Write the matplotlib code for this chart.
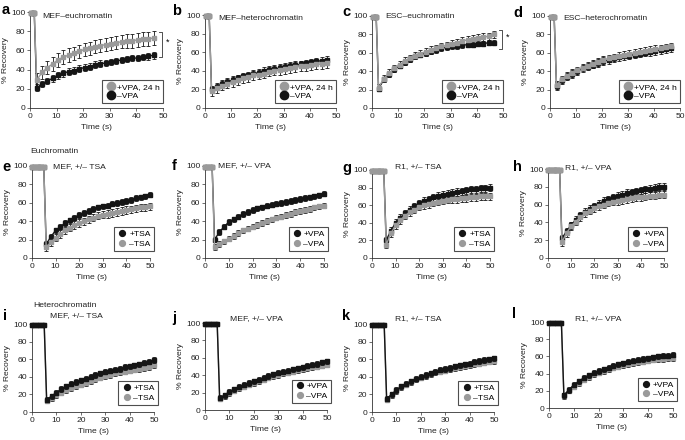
import numpy as np
import matplotlib.pyplot as plt
from matplotlib.lines import Line2D

plt.rcParams['font.family'] = ['Liberation Sans', 'DejaVu Sans']

W, H = 685, 440

# time grids (s)
t_top_pre = [0.4, 1.0, 1.6]
t_top = np.arange(2.5, 48, 2)          # 2.5 .. 46.5
t_low_pre = [0, 1, 2, 3, 4, 5]
t_low = np.arange(6, 51, 2)            # 6 .. 50
t_f_pre = [0, 1, 2, 3]
t_f = np.arange(4, 51, 2)              # 4 .. 50

# top row: gray = +VPA 24 h, black = -VPA
a_gray = [29, 37, 42, 46, 50, 53, 55, 57, 59, 61, 62, 64, 65, 66, 67, 68, 69, 70, 70, 71, 72, 72, 73]
a_black = [21, 25, 28, 31, 34, 36, 38, 39, 41, 42, 43, 45, 46, 47, 48, 49, 50, 51, 52, 52, 53, 54, 55]
b_gray = [18, 21, 24, 26, 28, 30, 32, 33, 35, 36, 37, 39, 40, 41, 42, 43, 44, 45, 45, 46, 47, 47, 48]
b_black = [20, 23, 26, 28, 30, 32, 34, 35, 37, 38, 40, 41, 42, 43, 44, 45, 46, 47, 48, 49, 50, 51, 52]
c_gray = [22, 32, 38, 43, 47, 51, 54, 57, 59, 61, 63, 65, 67, 68, 70, 71, 73, 74, 75, 76, 77, 78, 80]
c_black = [21, 31, 37, 42, 46, 50, 53, 56, 58, 60, 62, 63, 65, 66, 67, 67, 68, 69, 69, 70, 70, 71, 71]
d_gray = [25, 31, 35, 38, 41, 44, 46, 48, 50, 52, 54, 55, 57, 58, 59, 60, 61, 62, 63, 64, 65, 66, 67]
d_black = [24, 30, 34, 37, 40, 43, 45, 47, 49, 51, 52, 54, 55, 56, 57, 58, 59, 60, 61, 62, 63, 64, 65]

# rows 2-3: black = +drug, gray = -drug
e_black = [15, 23, 30, 34, 38, 41, 44, 47, 49, 51, 53, 55, 56, 57, 59, 60, 61, 62, 63, 65, 66, 67, 69]
e_gray = [12, 17, 22, 26, 30, 33, 36, 38, 40, 42, 44, 46, 47, 48, 49, 50, 51, 52, 53, 54, 55, 55, 56]
f_black = [20, 28, 34, 39, 42, 45, 48, 50, 52, 54, 55, 57, 58, 59, 60, 61, 62, 63, 64, 65, 66, 67, 68, 70]
f_gray = [12, 15, 18, 21, 24, 27, 30, 32, 34, 36, 38, 40, 42, 44, 45, 47, 48, 50, 51, 52, 53, 55, 56, 57]
g_black = [20, 31, 40, 46, 51, 55, 59, 62, 65, 67, 69, 71, 72, 73, 74, 75, 76, 77, 78, 78, 79, 79, 80]
g_gray = [15, 28, 37, 43, 48, 52, 55, 58, 60, 61, 63, 64, 65, 66, 67, 67, 68, 68, 69, 69, 70, 70, 70]
h_black = [22, 30, 37, 43, 48, 52, 55, 58, 61, 64, 66, 68, 70, 71, 73, 74, 75, 76, 77, 78, 79, 80, 80]
h_gray = [18, 28, 36, 41, 46, 50, 53, 56, 58, 60, 62, 63, 64, 65, 66, 67, 68, 68, 69, 70, 70, 71, 71]
i_black = [14, 18, 22, 26, 29, 32, 34, 36, 38, 40, 42, 44, 46, 47, 48, 49, 51, 52, 53, 54, 56, 57, 59]
i_gray = [13, 16, 19, 22, 25, 27, 29, 31, 33, 35, 37, 39, 41, 42, 44, 45, 46, 47, 48, 49, 50, 51, 53]
j_black = [14, 17, 21, 24, 27, 29, 31, 33, 35, 37, 39, 41, 43, 44, 45, 47, 48, 49, 51, 52, 53, 55, 56]
j_gray = [13, 16, 19, 22, 25, 27, 29, 31, 33, 35, 37, 39, 40, 42, 43, 44, 46, 47, 48, 49, 50, 51, 52]
k_black = [15, 20, 25, 29, 32, 35, 38, 40, 42, 44, 46, 48, 49, 50, 52, 53, 54, 55, 57, 58, 59, 60, 61]
k_gray = [14, 19, 24, 28, 31, 34, 37, 39, 41, 43, 45, 46, 47, 49, 50, 51, 52, 53, 54, 55, 56, 57, 58]
l_black = [15, 21, 27, 31, 35, 38, 41, 43, 45, 47, 49, 51, 52, 54, 55, 56, 57, 58, 59, 60, 61, 61, 62]
l_gray = [14, 20, 25, 29, 33, 36, 39, 41, 43, 45, 47, 48, 50, 51, 52, 53, 54, 55, 56, 57, 57, 58, 58]

# error (SEM) per series: (gray, black)
errs = {'a': (7, 3.5), 'b': (5, 4), 'c': (4, 3), 'd': (4, 4),
        'e': (4, 3), 'f': (3, 3), 'g': (4, 4), 'h': (4, 4),
        'i': (3, 3), 'j': (3, 3), 'k': (3, 3), 'l': (3, 3)}

GRAY = '#9a9a9a'
BLACK = '#151515'

# axes boxes in pixels: left, top, right, bottom
boxes = {
    'a': (30, 12, 163, 108), 'b': (205, 15, 336, 108),
    'c': (372, 16, 503, 108), 'd': (550, 16, 680, 108),
    'e': (32, 166, 150, 258), 'f': (205, 166, 324, 258),
    'g': (372, 170, 490, 258), 'h': (548, 169, 664, 258),
    'i': (32, 324, 154, 412), 'j': (205, 323, 327, 410),
    'k': (372, 324, 494, 412), 'l': (549, 322, 673, 408),
}

titles = {'a': 'MEF\u2013euchromatin', 'b': 'MEF\u2013heterochromatin',
          'c': 'ESC\u2013euchromatin', 'd': 'ESC\u2013heterochromatin',
          'e': 'MEF, +/\u2013 TSA', 'f': 'MEF, +/\u2013 VPA',
          'g': 'R1, +/\u2013 TSA', 'h': 'R1, +/\u2013 VPA',
          'i': 'MEF, +/\u2013 TSA', 'j': 'MEF, +/\u2013 VPA',
          'k': 'R1, +/\u2013 TSA', 'l': 'R1, +/\u2013 VPA'}
title_pos = {'a': (42, 17), 'b': (218, 19), 'c': (385, 16), 'd': (563, 18),
             'e': (53, 167), 'f': (218, 166), 'g': (395, 167), 'h': (565, 168),
             'i': (50, 316), 'j': (230, 319), 'k': (395, 319), 'l': (575, 319)}
letter_pos = {'a': (2, 10), 'b': (172, 11), 'c': (342, 12), 'd': (513, 13),
              'e': (2, 167), 'f': (172, 166), 'g': (342, 168), 'h': (513, 167),
              'i': (3, 316), 'j': (172, 318), 'k': (342, 316), 'l': (512, 314)}

series = {
    'a': (t_top_pre, t_top, a_gray, a_black), 'b': (t_top_pre, t_top, b_gray, b_black),
    'c': (t_top_pre, t_top, c_gray, c_black), 'd': (t_top_pre, t_top, d_gray, d_black),
    'e': (t_low_pre, t_low, e_gray, e_black), 'f': (t_f_pre, t_f, f_gray, f_black),
    'g': (t_low_pre, t_low, g_gray, g_black), 'h': (t_low_pre, t_low, h_gray, h_black),
    'i': (t_low_pre, t_low, i_gray, i_black), 'j': (t_low_pre, t_low, j_gray, j_black),
    'k': (t_low_pre, t_low, k_gray, k_black), 'l': (t_low_pre, t_low, l_gray, l_black),
}

FS = 6.1

fig = plt.figure(figsize=(W / 100, H / 100), dpi=100)


def fx(px):
    return px / W


def fy(py):
    return 1 - py / H


def draw_series(ax, tpre, tpost, vals, err, color, z):
    t = list(tpre) + list(tpost)
    v = [99] * len(tpre) + list(vals)
    e = [1.5] * len(tpre) + [err] * len(vals)
    ax.errorbar(t, v, yerr=e, fmt='-s', color=color, ms=2.6, lw=1.0,
                mec=color, ecolor=BLACK, elinewidth=0.6, capsize=1.6,
                capthick=0.6, zorder=z, clip_on=False)


for key, (l, t, r, b) in boxes.items():
    ax = fig.add_axes([fx(l), fy(b), fx(r) - fx(l), (b - t) / H])
    tpre, tpost, gray, black = series[key]
    eg, eb = errs[key]
    top_row = key in 'abcd'
    third_row = key in 'ijkl'
    if third_row:
        draw_series(ax, tpre, tpost, gray, eg, GRAY, 3)
        draw_series(ax, tpre, tpost, black, eb, BLACK, 4)
    else:
        draw_series(ax, tpre, tpost, black, eb, BLACK, 3)
        draw_series(ax, tpre, tpost, gray, eg, GRAY, 4)

    ax.set_xlim(0, 50)
    ax.set_ylim(0, 100)
    ax.set_xticks([0, 10, 20, 30, 40, 50])
    ax.set_yticks([0, 20, 40, 60, 80, 100])
    for s in ['top', 'right']:
        ax.spines[s].set_visible(False)
    for s in ['left', 'bottom']:
        ax.spines[s].set_linewidth(0.6)
        ax.spines[s].set_color('#333333')
    ax.tick_params(labelsize=FS, length=2, width=0.5, pad=1.5, colors='#333333',
                   labelcolor='#222222')
    ax.set_xlabel('Time (s)', fontsize=FS, labelpad=3, color='#222222')
    ax.set_ylabel('% Recovery', fontsize=FS, labelpad=1.5, color='#222222')

    if top_row:
        handles = [Line2D([], [], ls='none', marker='o', ms=6, color=GRAY),
                   Line2D([], [], ls='none', marker='o', ms=6, color=BLACK)]
        labels = ['+VPA, 24 h', '\u2013VPA']
        anchor = (1.0, 0.05)
    else:
        drug = 'TSA' if key in 'egik' else 'VPA'
        handles = [Line2D([], [], ls='none', marker='o', ms=4.2, color=BLACK),
                   Line2D([], [], ls='none', marker='o', ms=4.2, color=GRAY)]
        labels = ['+' + drug, '\u2013' + drug]
        anchor = (1.03, 0.08)
    leg = ax.legend(handles, labels, loc='lower right', bbox_to_anchor=anchor,
                    fontsize=FS, frameon=True, fancybox=False, borderpad=0.35,
                    handletextpad=0.2, handlelength=1.2, labelspacing=0.2,
                    borderaxespad=0)
    leg.get_frame().set_edgecolor('#222222')
    leg.get_frame().set_linewidth(0.8)
    leg.set_zorder(10)

    tx, ty = title_pos[key]
    fig.text(fx(tx), fy(ty), titles[key], fontsize=FS, va='center', ha='left',
             color='#222222')
    lx, ly = letter_pos[key]
    fig.text(fx(lx), fy(ly), key, fontsize=10.5, fontweight='bold', va='center',
             ha='left')

    # significance brackets
    if key in ('a', 'c'):
        y_hi, y_lo = (79, 53) if key == 'a' else (85, 64)
        ax.plot([48.5, 49.5, 49.5, 48.5], [y_hi, y_hi, y_lo, y_lo],
                color='#333333', lw=0.6, clip_on=False)
        ax.text(51, (y_hi + y_lo) / 2 + 2, '*', fontsize=6.5, ha='left', va='center')

fig.text(fx(30), fy(151), 'Euchromatin', fontsize=FS, va='center', ha='left',
         color='#222222')
fig.text(fx(33), fy(305), 'Heterochromatin', fontsize=FS, va='center', ha='left',
         color='#222222')

fig.savefig('out.png', dpi=100)
